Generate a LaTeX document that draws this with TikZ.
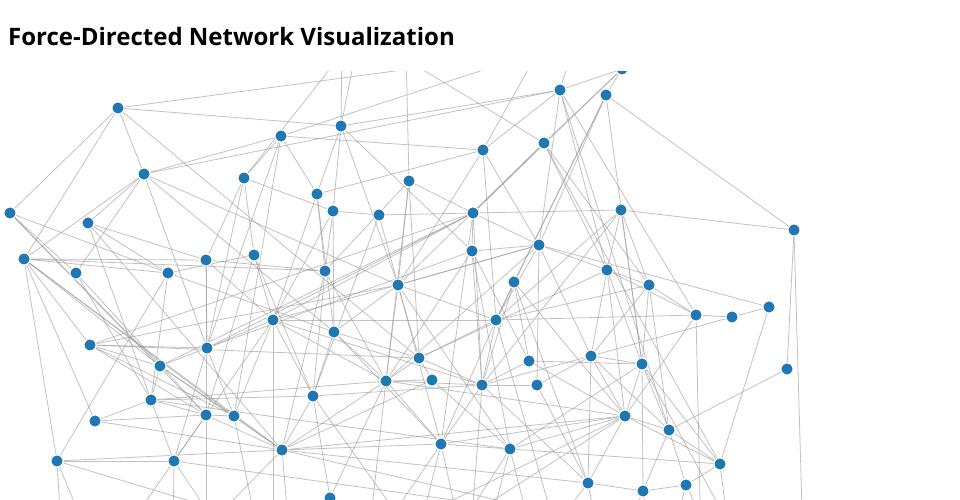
\documentclass[tikz,border=0pt]{standalone}
\usepackage{fontspec}
\setmainfont{Open Sans}
\usepackage{tikz}
\usetikzlibrary{backgrounds}
\definecolor{nodeblue}{HTML}{1F77B4}

\begin{document}
\begin{tikzpicture}[x=1pt,y=-1pt,main node/.style={circle,fill=nodeblue,draw=white,line width=1pt,minimum size=12pt,inner sep=0pt},link/.style={draw=gray!80,opacity=.6,line width=.8pt}]
    \useasboundingbox (0,0) rectangle (960,500);
    \node[anchor=base west,inner sep=0pt,font=\bfseries\fontsize{24}{28}\selectfont] (title) at (8,46) {Force-Directed Network Visualization};

    \begin{scope}
    \clip (0,72) rectangle (960,500);
    \node[main node] (1) at (118,108) {};
    \node[main node] (2) at (281,136) {};
    \node[main node] (3) at (341,126) {};
    \node[main node] (4) at (560,90) {};
    \node[main node] (5) at (606,95) {};
    \node[main node] (6) at (483,150) {};
    \node[main node] (7) at (544,143) {};
    \node[main node] (8) at (144,174) {};
    \node[main node] (9) at (244,178) {};
    \node[main node] (10) at (317,194) {};
    \node[main node] (11) at (409,181) {};
    \node[main node] (12) at (10,213) {};
    \node[main node] (13) at (88,223) {};
    \node[main node] (14) at (333,211) {};
    \node[main node] (15) at (379,215) {};
    \node[main node] (16) at (473,213) {};
    \node[main node] (17) at (621,210) {};
    \node[main node] (18) at (794,230) {};
    \node[main node] (19) at (24,259) {};
    \node[main node] (20) at (76,273) {};
    \node[main node] (21) at (168,273) {};
    \node[main node] (22) at (206,260) {};
    \node[main node] (23) at (254,255) {};
    \node[main node] (24) at (325,271) {};
    \node[main node] (25) at (472,251) {};
    \node[main node] (26) at (539,245) {};
    \node[main node] (27) at (607,270) {};
    \node[main node] (28) at (398,285) {};
    \node[main node] (29) at (514,282) {};
    \node[main node] (30) at (649,285) {};
    \node[main node] (31) at (273,320) {};
    \node[main node] (32) at (334,332) {};
    \node[main node] (33) at (496,320) {};
    \node[main node] (34) at (696,315) {};
    \node[main node] (35) at (732,317) {};
    \node[main node] (36) at (769,307) {};
    \node[main node] (37) at (90,345) {};
    \node[main node] (38) at (207,348) {};
    \node[main node] (39) at (160,366) {};
    \node[main node] (40) at (419,358) {};
    \node[main node] (41) at (529,361) {};
    \node[main node] (42) at (591,356) {};
    \node[main node] (43) at (642,364) {};
    \node[main node] (44) at (787,369) {};
    \node[main node] (45) at (386,381) {};
    \node[main node] (46) at (432,380) {};
    \node[main node] (47) at (482,385) {};
    \node[main node] (48) at (537,385) {};
    \node[main node] (49) at (151,400) {};
    \node[main node] (50) at (206,415) {};
    \node[main node] (51) at (234,416) {};
    \node[main node] (52) at (313,396) {};
    \node[main node] (53) at (95,421) {};
    \node[main node] (54) at (625,416) {};
    \node[main node] (55) at (669,430) {};
    \node[main node] (56) at (441,444) {};
    \node[main node] (57) at (510,449) {};
    \node[main node] (58) at (282,450) {};
    \node[main node] (59) at (57,461) {};
    \node[main node] (60) at (174,461) {};
    \node[main node] (61) at (720,464) {};
    \node[main node] (62) at (588,483) {};
    \node[main node] (63) at (686,485) {};
    \node[main node] (64) at (643,491) {};
    \node[main node] (65) at (330,498) {};
    \node[main node] (66) at (622,69) {};
    \end{scope}

    % nodes outside the visible area
    \coordinate (t1) at (470,61);
    \coordinate (t2) at (342,40);
    \coordinate (t3) at (358,40);
    \coordinate (t4) at (337,60);
    \coordinate (t5) at (390,50);
    \coordinate (t6) at (406,50);
    \coordinate (t7) at (539,50);
    \coordinate (t8) at (575,40);
    \coordinate (t9) at (520,58);
    \coordinate (b1) at (62,545);
    \coordinate (b2) at (92,545);
    \coordinate (b3) at (320,540);
    \coordinate (b4) at (173,545);
    \coordinate (b5) at (105,560);
    \coordinate (b6) at (230,545);
    \coordinate (b7) at (189,545);
    \coordinate (b8) at (560,515);
    \coordinate (b9) at (540,510);
    \coordinate (b10) at (368,545);
    \coordinate (b11) at (372,545);
    \coordinate (b12) at (416,545);
    \coordinate (b13) at (463,545);
    \coordinate (b14) at (448,545);
    \coordinate (b15) at (485,545);
    \coordinate (b16) at (534,545);
    \coordinate (b17) at (540,545);
    \coordinate (b18) at (600,545);
    \coordinate (b19) at (620,545);
    \coordinate (b20) at (650,545);
    \coordinate (b21) at (670,545);
    \coordinate (b22) at (715,545);
    \coordinate (b23) at (730,545);
    \coordinate (b24) at (701,545);
    \coordinate (b25) at (803,545);
    \coordinate (b26) at (320,545);
    \coordinate (b27) at (345,545);
    \coordinate (b28) at (260,545);
    \coordinate (b29) at (290,545);
    \coordinate (b30) at (419,545);
    \coordinate (b31) at (273,545);
    \coordinate (b32) at (206,545);
    \coordinate (b33) at (330,560);
    \coordinate (b34) at (400,560);
    \coordinate (b35) at (740,545);
    \coordinate (b36) at (470,545);
    \coordinate (b37) at (560,545);

    \begin{scope}[on background layer]
    \clip (0,72) rectangle (960,500);
    \path[link]
    (1) edge (3) (1) edge (12) (1) edge (19) (1) edge (8) (1) edge (t1) (1) edge (40)
    (2) edge (8) (2) edge (10) (2) edge (38) (2) edge (51) (2) edge (t9) (2) edge (6) (2) edge (9)
    (3) edge (4) (3) edge (t2) (3) edge (t3) (3) edge (10) (3) edge (14) (3) edge (25) (3) edge (28)
    (4) edge (66) (4) edge (6) (4) edge (26) (4) edge (34) (4) edge (27) (4) edge (t8) (4) edge (8) (4) edge (55)
    (5) edge (66) (5) edge (18) (5) edge (29) (5) edge (26) (5) edge (33) (5) edge (43)
    (6) edge (t7) (6) edge (10) (6) edge (26) (6) edge (28) (6) edge (33)
    (7) edge (66) (7) edge (16) (7) edge (27) (7) edge (30) (7) edge (t5) (7) edge (28) (7) edge (61)
    (8) edge (19) (8) edge (20) (8) edge (13) (8) edge (28) (8) edge (32) (8) edge (38)
    (9) edge (14) (9) edge (t4) (9) edge (23) (9) edge (22) (9) edge (38)
    (10) edge (24) (10) edge (32) (10) edge (31)
    (11) edge (t6) (11) edge (16) (11) edge (24) (11) edge (28) (11) edge (40) (11) edge (45)
    (12) edge (20) (12) edge (21) (12) edge (39) (12) edge (50)
    (13) edge (21) (13) edge (22) (13) edge (49) (13) edge (58)
    (14) edge (15) (14) edge (24) (14) edge (31) (14) edge (32)
    (15) edge (16) (15) edge (28) (15) edge (52)
    (16) edge (17) (16) edge (26) (16) edge (25) (16) edge (66) (16) edge (38) (16) edge (31) (16) edge (47) (16) edge (37) (16) edge (39) (16) edge (56)
    (17) edge (18) (17) edge (27) (17) edge (30) (17) edge (33) (17) edge (47) (17) edge (43)
    (18) edge (44) (18) edge (b25)
    (19) edge (22) (19) edge (24) (19) edge (37) (19) edge (39) (19) edge (53) (19) edge (59) (19) edge (21) (19) edge (51) (19) edge (58)
    (20) edge (49) (20) edge (50)
    (21) edge (23) (21) edge (32) (21) edge (59) (21) edge (49)
    (22) edge (38) (22) edge (24) (22) edge (31) (22) edge (50)
    (23) edge (31) (23) edge (52) (23) edge (50)
    (24) edge (52) (24) edge (45) (24) edge (58)
    (25) edge (26) (25) edge (45) (25) edge (47) (25) edge (57) (25) edge (38) (25) edge (41)
    (26) edge (36) (26) edge (27) (26) edge (28) (26) edge (33) (26) edge (42) (26) edge (31) (26) edge (45) (26) edge (48)
    (27) edge (30) (27) edge (42) (27) edge (43) (27) edge (40) (27) edge (54) (27) edge (34)
    (28) edge (32) (28) edge (40) (28) edge (45) (28) edge (33) (28) edge (37) (28) edge (56) (28) edge (57)
    (29) edge (33) (29) edge (47) (29) edge (41) (29) edge (54) (29) edge (62)
    (30) edge (34) (30) edge (43) (30) edge (55) (30) edge (42) (30) edge (33)
    (31) edge (38) (31) edge (60) (31) edge (33) (31) edge (47) (31) edge (51) (31) edge (52) (31) edge (45) (31) edge (b31)
    (32) edge (52) (32) edge (45) (32) edge (40) (32) edge (56)
    (33) edge (34) (33) edge (47) (33) edge (56) (33) edge (40) (33) edge (b37)
    (34) edge (35) (34) edge (54) (34) edge (b24)
    (35) edge (36) (35) edge (42)
    (36) edge (61)
    (37) edge (38) (37) edge (40) (37) edge (39) (37) edge (51) (37) edge (50)
    (38) edge (39) (38) edge (60) (38) edge (51)
    (39) edge (49) (39) edge (58) (39) edge (51)
    (40) edge (45) (40) edge (46) (40) edge (47)
    (41) edge (47) (41) edge (43) (41) edge (54)
    (42) edge (48) (42) edge (54) (42) edge (43) (42) edge (62) (42) edge (47) (42) edge (55)
    (43) edge (55) (43) edge (64) (43) edge (57) (43) edge (61) (43) edge (54) (43) edge (b35)
    (44) edge (55)
    (45) edge (46) (45) edge (47) (45) edge (b10) (45) edge (56) (45) edge (58) (45) edge (54) (45) edge (65)
    (46) edge (57) (46) edge (58)
    (47) edge (48) (47) edge (56) (47) edge (62) (47) edge (52) (47) edge (b36)
    (48) edge (62)
    (49) edge (50) (49) edge (52) (49) edge (60) (49) edge (53) (49) edge (45)
    (50) edge (51) (50) edge (53) (50) edge (60) (50) edge (58) (50) edge (b32)
    (51) edge (58) (51) edge (b28)
    (52) edge (58) (52) edge (65) (52) edge (b30)
    (53) edge (58)
    (54) edge (57) (54) edge (61) (54) edge (62) (54) edge (55) (54) edge (58) (54) edge (56) (54) edge (b33) (54) edge (b34)
    (55) edge (61) (55) edge (63) (55) edge (64)
    (56) edge (57) (56) edge (b11) (56) edge (b12) (56) edge (b13) (56) edge (58)
    (57) edge (b14) (57) edge (b15) (57) edge (b16) (57) edge (61) (57) edge (49)
    (58) edge (b7) (58) edge (62) (58) edge (b9) (58) edge (b29)
    (59) edge (60) (59) edge (58) (59) edge (b1) (59) edge (b2) (59) edge (b3)
    (60) edge (b4) (60) edge (b5) (60) edge (b6) (60) edge (b8)
    (61) edge (63) (61) edge (b23)
    (62) edge (64) (62) edge (b17) (62) edge (b18)
    (63) edge (64) (63) edge (b21) (63) edge (b22)
    (64) edge (b19) (64) edge (b20)
    (65) edge (b26) (65) edge (b27);
    \end{scope}
\end{tikzpicture}
\end{document}
